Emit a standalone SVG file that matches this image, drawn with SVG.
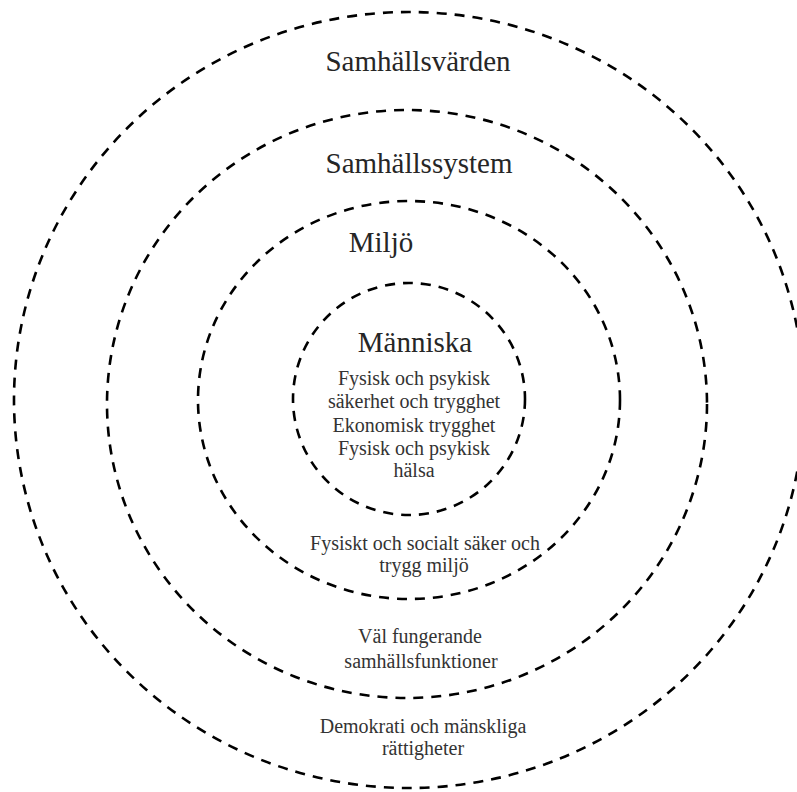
<svg xmlns="http://www.w3.org/2000/svg" width="797" height="792" viewBox="0 0 797 792">
<style>
.ring{fill:none;stroke:#000;stroke-width:2.6;stroke-dasharray:10 8}
.h{font-family:"Liberation Serif","Times New Roman",serif;font-size:29px;fill:#262626;text-anchor:middle}
.t{font-family:"Liberation Serif","Times New Roman",serif;font-size:20px;fill:#333;text-anchor:middle}
</style>
<rect width="797" height="792" fill="#fff"/>
<g id="samhallsvarden">
<ellipse class="ring" cx="409" cy="400" rx="395" ry="388"/>
<text class="h" x="418" y="71">Samhällsvärden</text>
<text class="t" x="423" y="733">Demokrati och mänskliga</text>
<text class="t" x="423" y="755">rättigheter</text>
</g>
<g id="samhallssystem">
<ellipse class="ring" cx="407" cy="404" rx="300" ry="294"/>
<text class="h" x="419" y="173">Samhällssystem</text>
<text class="t" x="420" y="643">Väl fungerande</text>
<text class="t" x="421" y="668">samhällsfunktioner</text>
</g>
<g id="miljo">
<ellipse class="ring" cx="409" cy="400" rx="211" ry="199"/>
<text class="h" x="381" y="252">Miljö</text>
<text class="t" x="425" y="550">Fysiskt och socialt säker och</text>
<text class="t" x="424" y="572">trygg miljö</text>
</g>
<g id="manniska">
<ellipse class="ring" cx="409" cy="399" rx="116" ry="116"/>
<text class="h" x="415" y="352">Människa</text>
<text class="t" x="414" y="385">Fysisk och psykisk</text>
<text class="t" x="414" y="408">säkerhet och trygghet</text>
<text class="t" x="414" y="432">Ekonomisk trygghet</text>
<text class="t" x="414" y="455">Fysisk och psykisk</text>
<text class="t" x="414" y="477">hälsa</text>
</g>
<g id="connectors"/>
</svg>
